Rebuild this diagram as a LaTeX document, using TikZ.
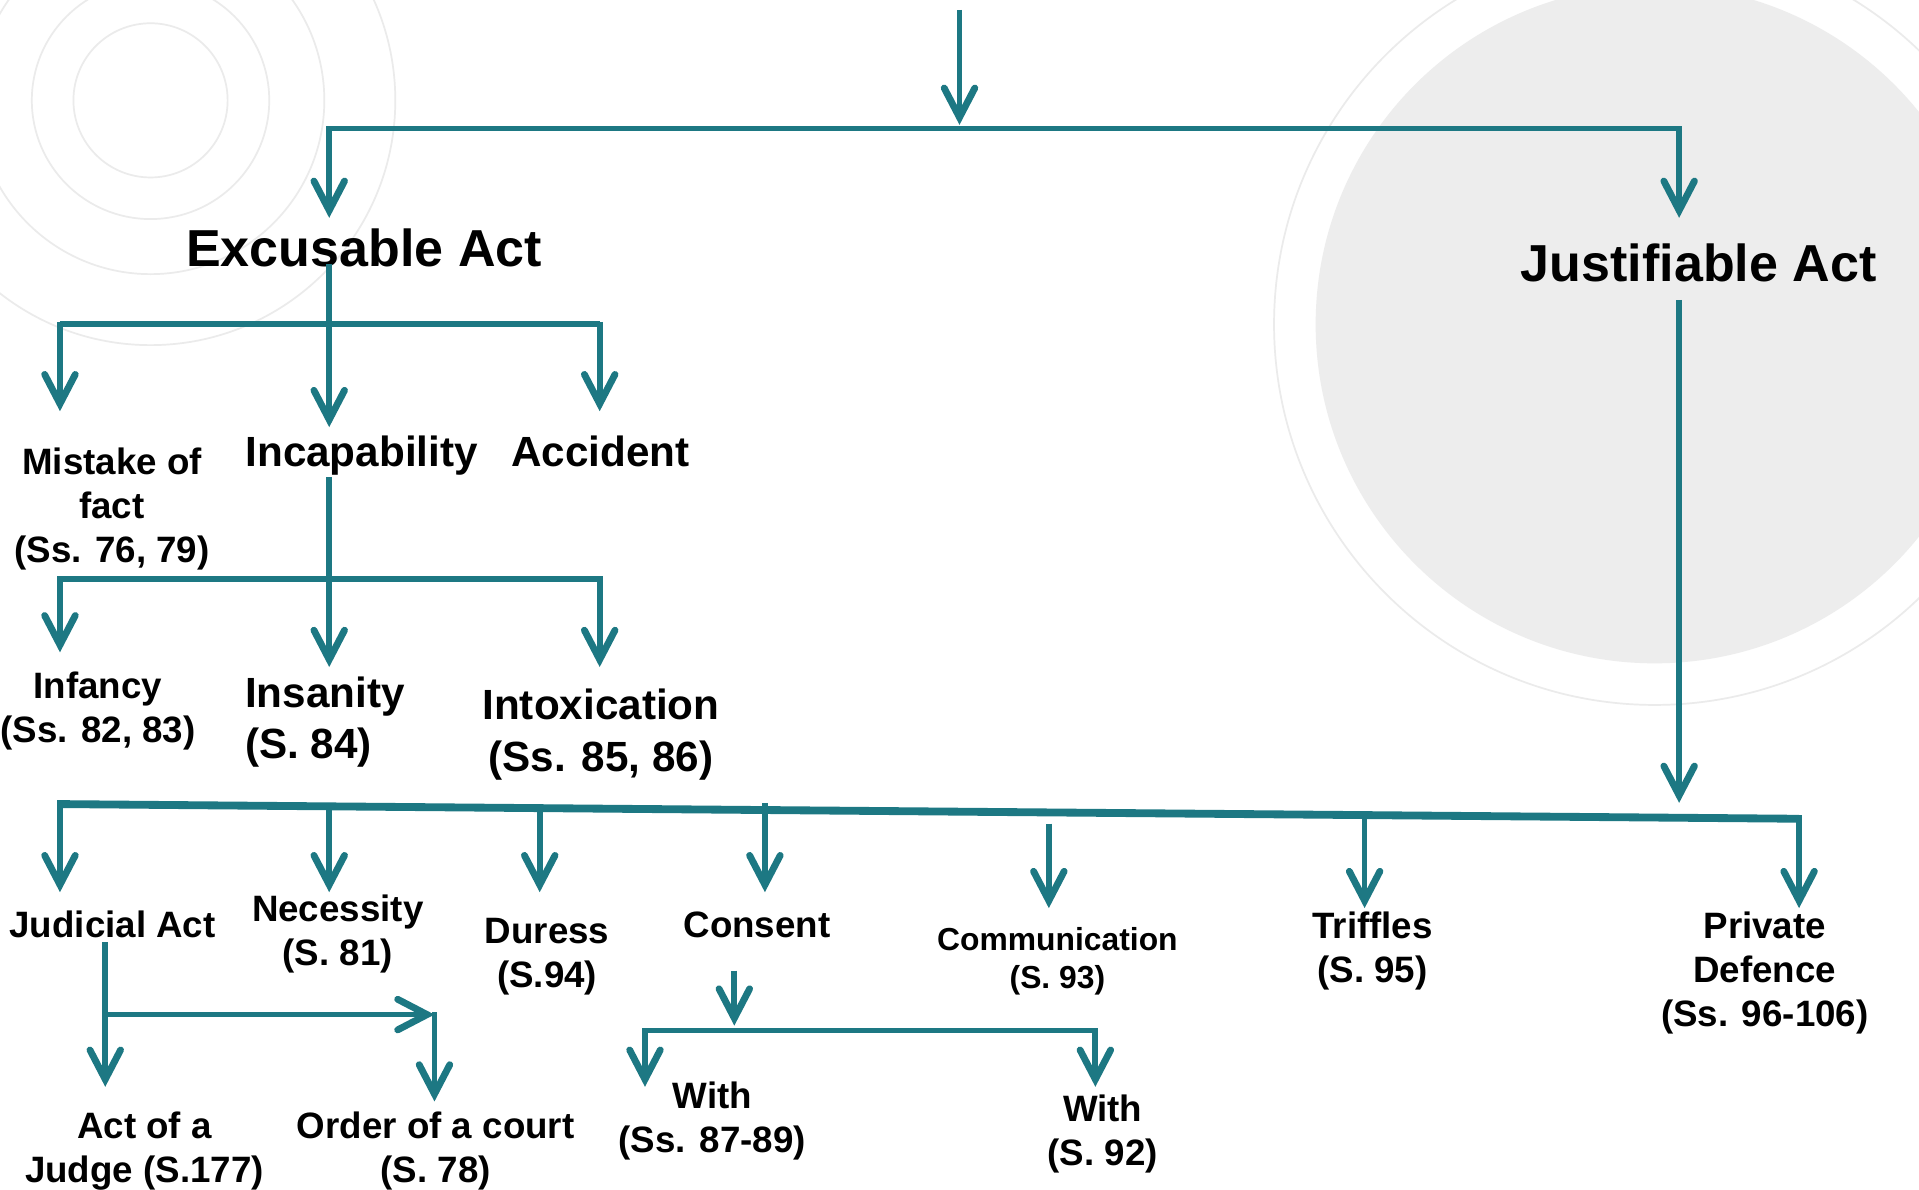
\documentclass[tikz,border=0pt]{standalone}
\usepackage{fontspec}
\setmainfont{Liberation Sans}
\usetikzlibrary{arrows.meta}
\definecolor{tealline}{RGB}{29,120,131}
\definecolor{ringgray}{RGB}{235,235,235}
\definecolor{discgray}{RGB}{237,237,237}
\begin{document}
\begin{tikzpicture}[x=1pt,y=-1pt,
  link/.style={draw=tealline, line width=4.7pt},
  arr/.style={link, -{Straight Barb[length=24pt 0,width=25pt 0,line width=5.6pt 0,line cap=round,line join=miter]}},
  lbl/.style={font=\bfseries\fontsize{30}{36}\selectfont, align=center, anchor=base, inner sep=0pt},
  mid/.style={lbl, font=\bfseries\fontsize{34.5}{42}\selectfont},
  head/.style={lbl, font=\bfseries\fontsize{42.5}{50}\selectfont},
  small/.style={lbl, font=\bfseries\fontsize{26}{31}\selectfont},
  ring/.style={draw=ringgray, line width=1.4pt}
]
% page and decorative background
\fill[white] (0,0) rectangle (1568,972);
\useasboundingbox (0,0) rectangle (1568,972);
\begin{scope}
  \clip (0,0) rectangle (1568,972);
  \foreach \r in {63,97,142,200} \draw[ring] (123,82) circle[radius=\r pt];
  \fill[discgray] (1352,265) circle[radius=277pt];
  \draw[ring] (1352,265) circle[radius=311pt];
\end{scope}

% ---------- labels (base anchor sits on the last line) ----------
\node[head] (excusable) at (297.5,218) {Excusable Act};
\node[head] (justifiable) at (1388,230) {Justifiable Act};

\node[lbl] (mistake) at (91.5,460) {Mistake of\\fact\\(Ss. 76, 79)};
\node[mid] (incap) at (295.5,381) {Incapability};
\node[mid] (accident) at (490.5,381) {Accident};

\node[lbl] (infancy) at (80,607) {Infancy\\(Ss. 82, 83)};
\node[mid, align=left, anchor=base west] (insanity) at (200,620) {Insanity\\(S. 84)};
\node[mid] (intox) at (491,630) {Intoxication\\(Ss. 85, 86)};

\node[lbl] (judicial) at (92,766) {Judicial Act};
\node[lbl] (necessity) at (276,789) {Necessity\\(S. 81)};
\node[lbl] (duress) at (447,807) {Duress\\(S.94)};
\node[lbl] (consent) at (618.5,766) {Consent};
\node[small] (comm) at (864,808) {Communication\\(S. 93)};
\node[lbl] (triffles) at (1121.5,803) {Triffles\\(S. 95)};
\node[lbl] (private) at (1442,839) {Private\\Defence\\(Ss. 96-106)};

\node[lbl] (actjudge) at (118,966) {Act of a\\Judge (S.177)};
\node[lbl] (order) at (356,966) {Order of a court\\(S. 78)};
\node[lbl] (with1) at (582,942) {With\\(Ss. 87-89)};
\node[lbl] (with2) at (901,952) {With\\(S. 92)};

% ---------- junction points ----------
\coordinate (src) at (784,8);
\coordinate (srcTip) at (784,102);
\coordinate (busTL) at (269,105);
\coordinate (busTR) at (1372,105);
\coordinate (exTip) at (269,178);
\coordinate (juTip) at (1372,178);

\coordinate (exOut) at (269,216);
\coordinate (busEL) at (49,265);
\coordinate (busER) at (490,265);
\coordinate (mistakeTip) at (49,336);
\coordinate (incapTip) at (269,349);
\coordinate (accidentTip) at (490,336);

\coordinate (incapOut) at (269,390);
\coordinate (busIL) at (49,473);
\coordinate (busIR) at (490,473);
\coordinate (infancyTip) at (49,533);
\coordinate (insanityTip) at (269,545);
\coordinate (intoxTip) at (490,545);

\coordinate (juOut) at (1372,245);
\coordinate (juBusTip) at (1372,656);
\coordinate (busBL) at (49,657);
\coordinate (busBR) at (1470,669);
\coordinate (judicialTip) at (49,729);
\coordinate (necessityTip) at (269,729);
\coordinate (duressTip) at (441,729);
\coordinate (consentTip) at (625,729);
\coordinate (commTip) at (857,742);
\coordinate (trifflesTip) at (1115,742);
\coordinate (privateTip) at (1470,742);

\coordinate (judOut) at (86,770);
\coordinate (judJoin) at (86,829);
\coordinate (orderCorner) at (355,829);
\coordinate (actTip) at (86,888);
\coordinate (orderTip) at (355,900);

\coordinate (conOut) at (600,793);
\coordinate (conTip) at (600,838);
\coordinate (busCL) at (527,842);
\coordinate (busCR) at (895,842);
\coordinate (with1Tip) at (527,888);
\coordinate (with2Tip) at (895,888);

% ---------- connectors ----------
\draw[arr] (src) -- (srcTip);
\draw[link] (busTL) -- (busTR);
\draw[arr] ([yshift=2pt]busTL) -- (exTip);
\draw[arr] ([yshift=2pt]busTR) -- (juTip);

\draw[link] (exOut) -- (busEL -| exOut);
\draw[link] (busEL) -- (busER);
\draw[arr] ([yshift=2pt]busEL) -- (mistakeTip);
\draw[arr] (busEL -| exOut) -- (incapTip);
\draw[arr] ([yshift=2pt]busER) -- (accidentTip);

\draw[link] (incapOut) -- (busIL -| incapOut);
\draw[link] (busIL) -- (busIR);
\draw[arr] ([yshift=2pt]busIL) -- (infancyTip);
\draw[arr] (busIL -| incapOut) -- (insanityTip);
\draw[arr] ([yshift=2pt]busIR) -- (intoxTip);

\draw[arr] (juOut) -- (juBusTip);
\draw[link, line width=6.4pt] (busBL) -- (busBR);
\draw[arr] (49,654) -- (judicialTip);
\draw[arr] (269,657) -- (necessityTip);
\draw[arr] (441,658) -- (duressTip);
\draw[arr] (625,656) -- (consentTip);
\draw[arr] (857,673) -- (commTip);
\draw[arr] (1115,664) -- (trifflesTip);
\draw[arr] (1470,666) -- (privateTip);

\draw[arr] (judOut) -- (actTip);
\draw[arr] (judJoin) -- (orderCorner);
\draw[arr] ([yshift=2pt]orderCorner) -- (orderTip);

\draw[arr] (conOut) -- (conTip);
\draw[link] (busCL) -- (busCR);
\draw[arr] ([yshift=2pt]busCL) -- (with1Tip);
\draw[arr] ([yshift=2pt]busCR) -- (with2Tip);
\end{tikzpicture}
\end{document}
